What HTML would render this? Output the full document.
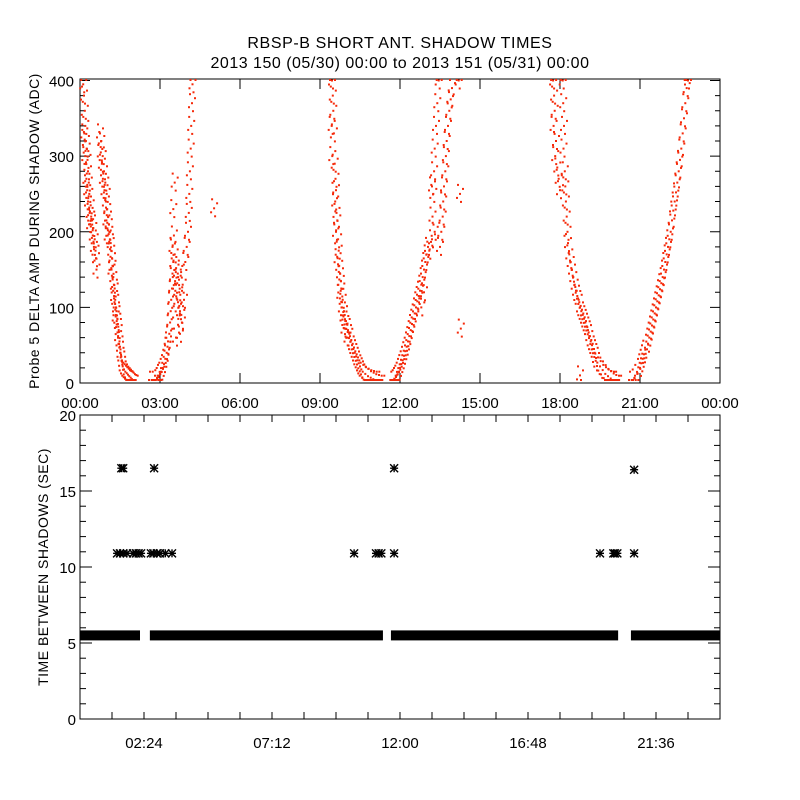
<!DOCTYPE html>
<html><head><meta charset="utf-8"><style>
body{margin:0;background:#fff;}
svg{display:block;font-family:"Liberation Sans",sans-serif;}
</style></head><body>
<svg id="chart" width="800" height="800" viewBox="0 0 800 800" xmlns="http://www.w3.org/2000/svg">
<rect x="0" y="0" width="800" height="800" fill="#fff"/>
<text x="400" y="48" text-anchor="middle" font-size="16" letter-spacing="0.6">RBSP-B SHORT ANT. SHADOW TIMES</text>
<text x="400" y="68" text-anchor="middle" font-size="16" letter-spacing="0.5">2013 150 (05/30) 00:00 to 2013 151 (05/31) 00:00</text>
<g id="topPanel"></g>
<g id="botPanel"></g>
<text transform="translate(39,231) rotate(-90)" text-anchor="middle" font-size="14" letter-spacing="0.5">Probe 5 DELTA AMP DURING SHADOW (ADC)</text>
<text transform="translate(48,567) rotate(-90)" text-anchor="middle" font-size="14" letter-spacing="0.5">TIME BETWEEN SHADOWS (SEC)</text>
</svg>
<script>
// ---- top panel data: hours of day and ADC amplitude ----
const ampHours = [
0.12,0.15,0.18,0.2,0.16,0.22,0.25,0.2,0.28,0.3,0.24,0.33,0.27,0.35,0.3,0.4,0.36,0.42,0.45,0.38,0.5,0.48,0.55,0.52,0.58,0.6,0.62,
0.75,0.8,0.78,0.85,0.82,0.9,0.86,0.95,0.92,1.0,0.97,1.02,1.05,0.99,1.08,1.1,1.04,1.12,1.15,
1.17,1.2,1.22,1.18,1.25,1.27,1.3,1.28,1.32,1.35,1.37,1.34,1.4,1.42,1.45,1.43,1.48,1.5,1.52,1.55,1.58,1.6,1.65,1.7,1.75,1.8,1.85,1.9,1.95,2.0,2.05,
2.7,2.8,2.9,2.95,3.0,3.05,3.1,3.15,3.2,3.25,3.28,3.3,3.35,3.38,3.4,3.42,3.45,3.48,3.5,3.47,3.52,3.55,3.58,3.6,3.65,3.7,3.75,3.8,3.72,3.68,3.78,3.85,3.9,3.82,3.6,3.75,3.5,3.55,3.95,4.0,4.05,4.08,4.1,4.12,4.15,4.17,4.2,4.22,
5.03,
9.45,9.48,9.5,9.44,9.52,9.46,9.55,9.58,9.6,9.57,9.62,9.65,9.6,9.68,9.7,9.66,9.72,9.75,9.78,9.8,9.76,9.85,9.82,9.9,9.88,9.95,10.0,9.92,10.05,10.1,10.03,10.15,10.2,10.25,10.3,10.35,10.4,10.45,10.5,10.55,10.6,10.7,10.8,10.9,11.0,11.1,11.2,11.3,
11.75,11.8,11.85,11.9,11.95,12.0,12.05,12.1,12.15,12.2,12.25,12.3,12.35,12.4,12.45,12.5,12.55,12.6,12.65,12.7,12.75,12.8,12.85,12.9,12.95,13.0,13.05,12.8,12.9,13.1,13.2,13.22,13.25,13.28,13.3,13.35,13.4,13.45,13.2,13.3,13.5,13.55,13.6,13.62,13.65,13.7,13.72,13.75,13.8,13.85,13.9,13.95,14.2,14.25,14.28,
17.74,17.78,17.8,17.76,17.85,17.82,17.9,17.95,18.0,18.1,18.12,18.15,18.13,18.18,18.2,18.22,18.25,18.28,18.3,18.35,18.4,18.45,18.5,18.55,18.6,18.65,18.7,18.75,18.8,18.85,18.9,18.95,19.0,19.05,19.1,19.15,19.2,19.25,19.3,19.35,19.4,19.5,19.6,19.7,19.8,19.9,20.0,20.1,20.18,18.75,
20.7,20.8,20.9,21.0,21.05,21.1,21.15,21.2,21.3,21.35,21.4,21.45,21.5,21.55,21.6,21.65,21.7,21.75,21.8,21.85,21.9,21.95,22.0,22.05,22.1,22.15,22.2,22.25,22.3,22.35,22.4,22.45,22.5,22.55,22.6,22.65,22.7,22.75,22.8];
const ampValues = [
395,380,360,340,330,320,310,300,295,280,270,265,255,250,240,235,225,220,215,210,205,195,190,180,175,165,150,
330,320,305,300,290,280,270,265,255,250,240,230,220,215,210,200,195,190,185,
175,165,155,150,140,130,125,115,110,100,95,88,85,78,70,62,55,48,40,35,28,22,18,15,13,11,9,7,5,4,3,
3,3,5,8,12,15,20,25,32,40,48,55,65,80,95,110,125,140,160,180,195,170,150,130,110,100,95,90,120,140,150,130,110,80,60,65,230,265,160,180,200,225,250,280,310,340,370,395,
231,
400,380,360,340,330,300,290,270,255,240,225,215,200,190,175,165,155,145,135,125,118,110,100,95,88,82,78,72,70,65,60,55,50,45,40,35,30,26,22,18,15,12,9,7,5,4,3,3,
3,5,8,11,15,20,25,30,36,42,48,55,62,70,78,85,92,100,108,115,122,130,140,150,160,170,180,100,120,175,190,220,250,280,310,340,370,400,260,200,180,200,220,240,260,280,300,320,340,360,375,390,400,250,72,
400,380,360,340,320,300,285,270,255,400,370,340,310,280,260,240,220,200,185,170,160,150,140,130,122,115,110,100,95,90,85,80,75,70,62,55,50,45,40,33,27,22,17,12,9,6,4,3,3,10,
3,6,12,20,26,32,38,44,52,60,68,76,84,92,100,108,116,124,132,140,150,160,170,180,190,200,215,228,240,252,265,280,295,310,330,350,370,390,400];
const topXTicks = [0,3,6,9,12,15,18,21,24];
const topXLabels = ["00:00","03:00","06:00","09:00","12:00","15:00","18:00","21:00","00:00"];
const topYTicks = [0,100,200,300,400];

// ---- bottom panel data ----
const bandStart = [0, 2.62, 11.66, 20.66];
const bandEnd = [2.25, 11.36, 20.18, 24];
const bandValue = [5.5, 5.5, 5.5, 5.5];
const starHours = [1.39,1.5,1.62,1.76,1.99,2.1,2.2,2.29,2.66,2.75,2.89,3.0,3.2,3.45,10.28,11.1,11.2,11.3,11.78,19.5,20.0,20.06,20.15,20.78,1.55,1.62,2.78,11.78,20.78];
const starValues = [10.9,10.9,10.9,10.9,10.9,10.9,10.9,10.9,10.9,10.9,10.9,10.9,10.9,10.9,10.9,10.9,10.9,10.9,10.9,10.9,10.9,10.9,10.9,10.9,16.5,16.5,16.5,16.5,16.4];
const botXTickLabels = ["02:24","07:12","12:00","16:48","21:36"];
const botXLabelHours = [2.4,7.2,12,16.8,21.6];
const botYTicks = [0,5,10,15,20];

const NS = "http://www.w3.org/2000/svg";
function mk(tag, attrs, parent){const e=document.createElementNS(NS,tag);for(const k in attrs)e.setAttribute(k,attrs[k]);parent.appendChild(e);return e;}

const L=80,R=720;
const tT=79,tB=383, bT=415,bB=719;
const xs = h => L + (R-L)*h/24;
const yTop = v => tB - (tB-tT)*v/402;
const yBot = v => bB - (bB-bT)*v/20;

const topG = document.getElementById('topPanel');
const botG = document.getElementById('botPanel');

let fr = mk('rect',{x:L,y:tT,width:R-L,height:tB-tT,fill:'none',stroke:'#000','stroke-width':1},topG);


for(let v=0; v<=400; v+=20){
  const major = v%100===0, len = major?10:5, y=yTop(v);
  const t1=mk('line',{x1:L,x2:L+len,y1:y,y2:y,stroke:'#000'},topG);
  
  
  const t2=mk('line',{x1:R,x2:R-len,y1:y,y2:y,stroke:'#000'},topG);
  
  
}
topYTicks.forEach(v=>{
  const t=mk('text',{x:L-6,y:yTop(v)+6,'text-anchor':'end','font-size':15},topG);
  t.textContent=v;
  
  
});
topXTicks.forEach((h,i)=>{
  const x=xs(h);
  const a=mk('line',{x1:x,x2:x,y1:tB,y2:tB-10,stroke:'#000'},topG);
  
  
  const b=mk('line',{x1:x,x2:x,y1:tT,y2:tT+10,stroke:'#000'},topG);
  
  
  const t=mk('text',{x:x,y:408,'text-anchor':'middle','font-size':15},topG);
  t.textContent=topXLabels[i];
  
  
});
const dots = mk('g',{fill:'#f52a0a'},topG);


const offs=[[0,0],[3,-5],[-3,4],[1,8],[-2,-9]];
ampHours.forEach((h,i)=>{
  const x=xs(h), y=yTop(ampValues[i]);
  offs.forEach(o=>{
    const yy=Math.min(Math.max(y+o[1],tT+1),tB-3);
    const p=mk('rect',{x:(x+o[0]-1).toFixed(1),y:(yy-1).toFixed(1),width:2,height:2},dots);
    
    
  });
});

fr = mk('rect',{x:L,y:bT,width:R-L,height:bB-bT,fill:'none',stroke:'#000','stroke-width':1},botG);


for(let v=0; v<=20; v+=1){
  const major=v%5===0, len=major?12:6, y=yBot(v);
  const t1=mk('line',{x1:L,x2:L+len,y1:y,y2:y,stroke:'#000'},botG);
  
  
  const t2=mk('line',{x1:R,x2:R-len,y1:y,y2:y,stroke:'#000'},botG);
  
  
}
botYTicks.forEach(v=>{
  const t=mk('text',{x:L-4,y:yBot(v)+6,'text-anchor':'end','font-size':15},botG);
  t.textContent=v;
  
  
});
for(let h=1.2; h<24; h+=1.2){
  const x=xs(h);
  const a=mk('line',{x1:x,x2:x,y1:bB,y2:bB-7,stroke:'#000'},botG);
  
  
  const b=mk('line',{x1:x,x2:x,y1:bT,y2:bT+7,stroke:'#000'},botG);
  
  
}
botXLabelHours.forEach((h,i)=>{
  const t=mk('text',{x:xs(h),y:748,'text-anchor':'middle','font-size':15},botG);
  t.textContent=botXTickLabels[i];
  
  
});
bandStart.forEach((s,i)=>{
  const y=yBot(bandValue[i]);
  const r=mk('rect',{x:xs(s),y:y-5,width:xs(bandEnd[i])-xs(s),height:10,fill:'#000'},botG);
  
  
});
starHours.forEach((h,i)=>{
  const x=xs(h), y=yBot(starValues[i]), s=4;
  const g=mk('g',{stroke:'#000','stroke-width':1.4},botG);
  
  
  mk('line',{x1:x-s,x2:x+s,y1:y,y2:y},g);
  mk('line',{x1:x,x2:x,y1:y-s,y2:y+s},g);
  mk('line',{x1:x-s,x2:x+s,y1:y-s,y2:y+s},g);
  mk('line',{x1:x-s,x2:x+s,y1:y+s,y2:y-s},g);
});
</script>
</body></html>
